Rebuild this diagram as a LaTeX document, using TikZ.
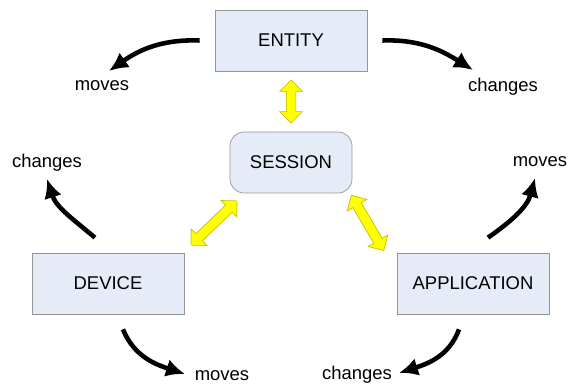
\documentclass[tikz,border=0pt]{standalone}
\usepackage{fontspec}
\setmainfont{Liberation Sans}
\usepackage{tikz}
\usetikzlibrary{arrows.meta,shapes,positioning}
\usepackage{xcolor}
\definecolor{boxblue}{RGB}{230,236,247}
\definecolor{boxgray}{RGB}{150,150,150}
\definecolor{arryellow}{RGB}{255,255,0}
\definecolor{arredge}{RGB}{200,190,0}
\tikzstyle{block} = [draw=boxgray, fill=boxblue, minimum width=3.04cm, minimum height=1.22cm, font=\fontsize{10.5}{12}\selectfont]
\tikzstyle{label} = [inner sep=2pt, font=\fontsize{10.5}{12}\selectfont]
\tikzstyle{curve} = [line width=2.6pt, -{Latex[length=3.8mm,width=3.6mm]}]
\tikzstyle{yarrow} = [double arrow, draw=arredge, fill=arryellow, inner xsep=0pt, inner ysep=0.09cm, double arrow head extend=0.13cm, sloped]

\begin{document}
\begin{tikzpicture}
\useasboundingbox (0,0) rectangle (11.38,7.74);
% blocks
\node[block] (entity) at (5.82,6.93) {ENTITY};
\node[block, rounded corners=0.28cm, minimum width=2.44cm] (session) at (5.82,4.49) {SESSION};
\node[block] (device) at (2.16,2.07) {DEVICE};
\node[block] (application) at (9.46,2.07) {APPLICATION};

% labels
\node[label] (entmoves) at (2.04,6.02) {moves};
\node[label] (entchanges) at (10.06,6.0) {changes};
\node[label] (devchanges) at (0.94,4.48) {changes};
\node[label] (devmoves) at (4.44,0.22) {moves};
\node[label] (appmoves) at (10.8,4.5) {moves};
\node[label] (appchanges) at (7.14,0.24) {changes};

% yellow links to the session
\path (entity.south) -- node[yarrow, minimum height=0.86cm] (ysess1) {} (session.north);
\path ([shift={(0.14,0.16)}]device.north east) -- node[yarrow, minimum height=1.28cm] (ysess2) {} ([shift={(0.14,-0.16)}]session.south west);
\path ([shift={(-0.14,-0.16)}]application.north west) -- node[yarrow, minimum height=1.28cm] (ysess3) {} ([shift={(-0.14,0.16)}]session.south east);

% black curved arrows
\draw[curve] (entity.west) ++(-0.3,0) to[out=178,in=35] ([shift={(0.14,0.3)}]entmoves.center);
\draw[curve] (entity.east) ++(0.3,0) to[out=2,in=148] ([shift={(-0.6,0.34)}]entchanges.center);
\draw[curve] (device.north) ++(-0.26,0.3) to[out=140,in=-72] ([shift={(0,-0.32)}]devchanges.center);
\draw[curve] (device.south) ++(0.3,-0.3) to[out=-68,in=162] ([shift={(-0.74,0.04)}]devmoves.center);
\draw[curve] (application.north) ++(0.3,0.3) to[out=35,in=-105] ([shift={(-0.1,-0.32)}]appmoves.center);
\draw[curve] (application.south) ++(-0.28,-0.3) to[out=-110,in=18] ([shift={(0.84,0.04)}]appchanges.center);
\end{tikzpicture}
\end{document}
